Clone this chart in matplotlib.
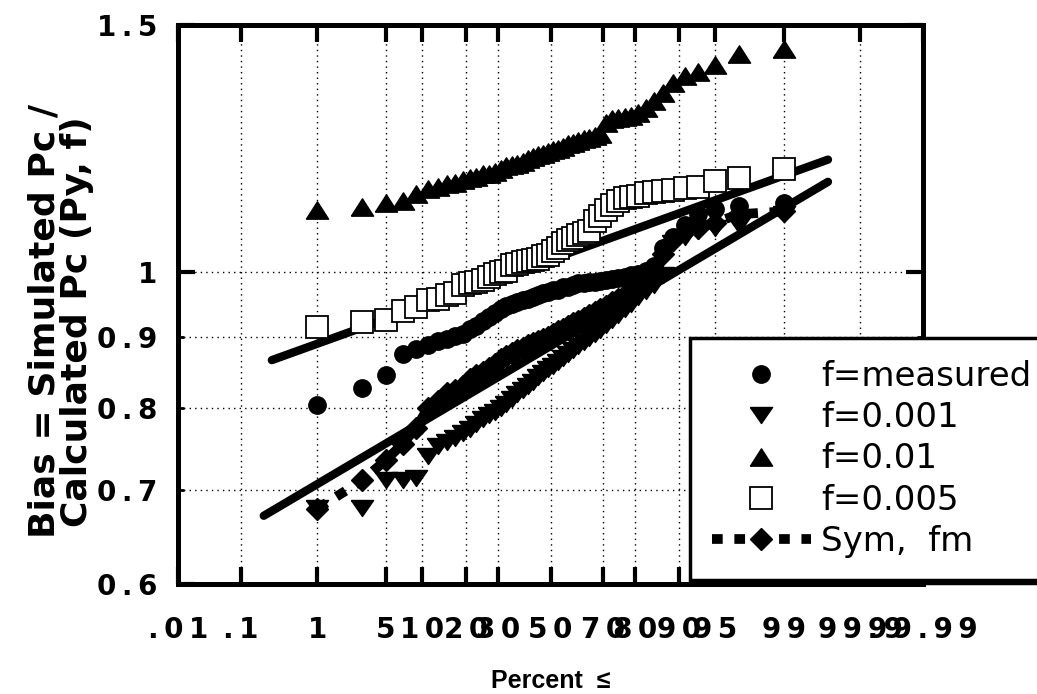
import numpy as np
import matplotlib.pyplot as plt
from matplotlib.path import Path
from statistics import NormalDist

# ---------------------------------------------------------
#  data: sorted bias values, 50 runs per case
# ---------------------------------------------------------
pct_ticks = [0.01, 0.1, 1, 5, 10, 20, 30, 50, 70, 80, 90, 95, 99, 99.9, 99.99]
pct_labels = ['.01', '.1', '1', '5', '10', '20', '30', '50', '70', '80',
              '90', '95', '99', '99.9', '99.99']
bias_major = [0.6, 1.0, 1.5]
bias_major_labels = ['0.6', '1', '1.5']
bias_minor = [0.7, 0.8, 0.9]
bias_minor_labels = ['0.7', '0.8', '0.9']

bias_measured = [0.804, 0.828, 0.845, 0.875, 0.882, 0.888, 0.894, 0.897, 0.901, 0.904,
                 0.911, 0.916, 0.924, 0.930, 0.936, 0.942, 0.947, 0.950, 0.952, 0.955,
                 0.958, 0.961, 0.963, 0.966, 0.969, 0.971, 0.972, 0.976, 0.977, 0.979,
                 0.982, 0.982, 0.984, 0.985, 0.986, 0.987, 0.989, 0.991, 0.993, 0.995,
                 0.998, 1.002, 1.010, 1.040, 1.060, 1.080, 1.100, 1.110, 1.115, 1.120]

bias_f0001 = [0.680, 0.680, 0.711, 0.711, 0.714, 0.740, 0.752, 0.757, 0.762, 0.768,
              0.774, 0.780, 0.786, 0.791, 0.795, 0.800, 0.806, 0.813, 0.819, 0.824,
              0.830, 0.836, 0.842, 0.848, 0.853, 0.858, 0.863, 0.869, 0.875, 0.881,
              0.886, 0.892, 0.898, 0.904, 0.910, 0.917, 0.925, 0.933, 0.942, 0.950,
              0.960, 0.970, 0.980, 0.995, 1.050, 1.060, 1.070, 1.075, 1.080, 1.100]

bias_f001 = [1.108, 1.113, 1.121, 1.124, 1.137, 1.147, 1.151, 1.155, 1.157, 1.164,
             1.168, 1.170, 1.174, 1.174, 1.178, 1.184, 1.190, 1.193, 1.195, 1.199,
             1.204, 1.209, 1.213, 1.215, 1.219, 1.223, 1.225, 1.229, 1.234, 1.236,
             1.240, 1.244, 1.246, 1.250, 1.254, 1.277, 1.286, 1.288, 1.290, 1.292,
             1.299, 1.309, 1.324, 1.342, 1.364, 1.380, 1.388, 1.404, 1.431, 1.443]

bias_f0005 = [0.915, 0.922, 0.925, 0.938, 0.945, 0.955, 0.958, 0.964, 0.966, 0.979,
              0.982, 0.984, 0.987, 0.993, 0.997, 1.000, 1.003, 1.012, 1.013, 1.017,
              1.018, 1.020, 1.022, 1.027, 1.029, 1.035, 1.040, 1.049, 1.054, 1.058,
              1.063, 1.066, 1.070, 1.088, 1.097, 1.108, 1.117, 1.124, 1.130, 1.132,
              1.134, 1.139, 1.141, 1.143, 1.144, 1.149, 1.151, 1.162, 1.168, 1.185]

bias_sym = [0.679, 0.711, 0.735, 0.755, 0.775, 0.800, 0.810, 0.820, 0.825, 0.830,
            0.840, 0.845, 0.850, 0.855, 0.860, 0.868, 0.872, 0.876, 0.880, 0.884,
            0.888, 0.890, 0.893, 0.896, 0.900, 0.904, 0.908, 0.912, 0.916, 0.920,
            0.924, 0.928, 0.932, 0.937, 0.942, 0.947, 0.952, 0.958, 0.964, 0.970,
            0.975, 0.980, 0.990, 1.030, 1.055, 1.070, 1.075, 1.085, 1.100, 1.105]

# lognormal fit lines (end points)
fit_upper_pct = [0.27, 99.72]
fit_upper = [0.866, 1.203]
fit_lower_pct = [0.21, 99.72]
fit_lower = [0.671, 1.160]

n = len(bias_measured)
pct = (np.arange(1, n + 1) - 0.5) / n * 100  # Hazen plotting positions

# ---------------------------------------------------------
#  normal probability scale for the x axis
# ---------------------------------------------------------
_nd = NormalDist()
_inv = np.vectorize(_nd.inv_cdf, otypes=[float])
_cdf = np.vectorize(_nd.cdf, otypes=[float])


def pct_to_z(p):
    p = np.clip(np.asarray(p, dtype=float) / 100.0, 1e-9, 1 - 1e-9)
    return _inv(p)


def z_to_pct(z):
    return _cdf(np.asarray(z, dtype=float)) * 100.0


def spaced(s):
    # wide letter spacing for the tick labels
    return '\u2009'.join(s)


# wide, flat triangles
tri_down = Path([(-1, 0.72), (1, 0.72), (0, -0.72), (-1, 0.72)])
tri_up = Path([(-1, -0.78), (1, -0.78), (0, 0.78), (-1, -0.78)])

plt.rcParams['font.family'] = 'DejaVu Sans'

fig = plt.figure(figsize=(10.37, 6.94), dpi=100)
ax = fig.add_axes([178 / 1037, 1 - 584 / 694, 745 / 1037, 559 / 694])
ax.set_xscale('function', functions=(pct_to_z, z_to_pct))
ax.set_yscale('log')

ax.plot(fit_upper_pct, fit_upper, color='k', lw=6, solid_capstyle='round', zorder=3)
ax.plot(fit_lower_pct, fit_lower, color='k', lw=6, solid_capstyle='round', zorder=3)

ax.plot(pct, bias_measured, ls='none', marker='o', ms=12.5, mfc='k', mec='k',
        label='f=measured', zorder=4)
ax.plot(pct, bias_f0001, ls='none', marker=tri_down, ms=16, mfc='k', mec='k',
        label='f=0.001', zorder=4)
ax.plot(pct, bias_f001, ls='none', marker=tri_up, ms=16, mfc='k', mec='k',
        label='f=0.01', zorder=4)
ax.plot(pct, bias_f0005, ls='none', marker='s', ms=15.5, mfc='white', mec='k',
        mew=1.3, label='f=0.005', zorder=4)
ax.plot(pct, bias_sym, color='k', lw=7, ls=(0, (1.1, 1.2)), dash_capstyle='butt',
        marker='D', ms=11.5, mfc='k', mec='k', label='Sym,  fm', zorder=4)

ax.set_xlim(0.01, 99.99)
ax.set_ylim(0.6, 1.5)

ax.set_xticks(pct_ticks, labels=[spaced(s) for s in pct_labels],
              fontsize=20, fontweight='bold')
ax.set_yticks(bias_major, labels=[spaced(s) for s in bias_major_labels],
              fontsize=20, fontweight='bold')
ax.set_yticks(bias_minor, labels=[spaced(s) for s in bias_minor_labels], minor=True,
              fontsize=20, fontweight='bold')
ax.xaxis.set_minor_locator(plt.NullLocator())

ax.tick_params(axis='both', which='major', direction='in', top=True, right=True,
               length=12, width=3)
ax.tick_params(axis='y', which='minor', direction='in', right=True,
               length=4, width=2)
ax.tick_params(axis='x', which='major', pad=23)
ax.tick_params(axis='y', which='both', pad=15)

ax.grid(True, axis='x', which='major', color='k', lw=1, ls=(0, (1, 3)))
ax.grid(True, axis='y', which='both', color='k', lw=1, ls=(0, (1, 3)))
for sp in ax.spines.values():
    sp.set_linewidth(3.6)

ax.set_xlabel('Percent  \u2264', fontsize=18, fontweight='bold',
              family=['Liberation Sans', 'DejaVu Sans'], labelpad=18)
ax.set_ylabel('Bias = Simulated Pc /\nCalculated Pc (Py, f)', fontsize=26,
              fontweight='bold', linespacing=0.95)
ax.yaxis.set_label_coords(-0.113, 0.47)

leg = ax.legend(loc='upper left', bbox_to_anchor=(690 / 1037, 1 - 338 / 694),
                bbox_transform=fig.transFigure, borderaxespad=0,
                prop={'family': 'DejaVu Sans', 'size': 24.5},
                numpoints=1, handlelength=2.9, handletextpad=0.3,
                borderpad=0.65, labelspacing=0.24, fancybox=False,
                framealpha=1, edgecolor='k',
                shadow={'color': 'k', 'alpha': 1})
leg.get_frame().set_linewidth(2.5)

fig.savefig('out.png', dpi=100)
